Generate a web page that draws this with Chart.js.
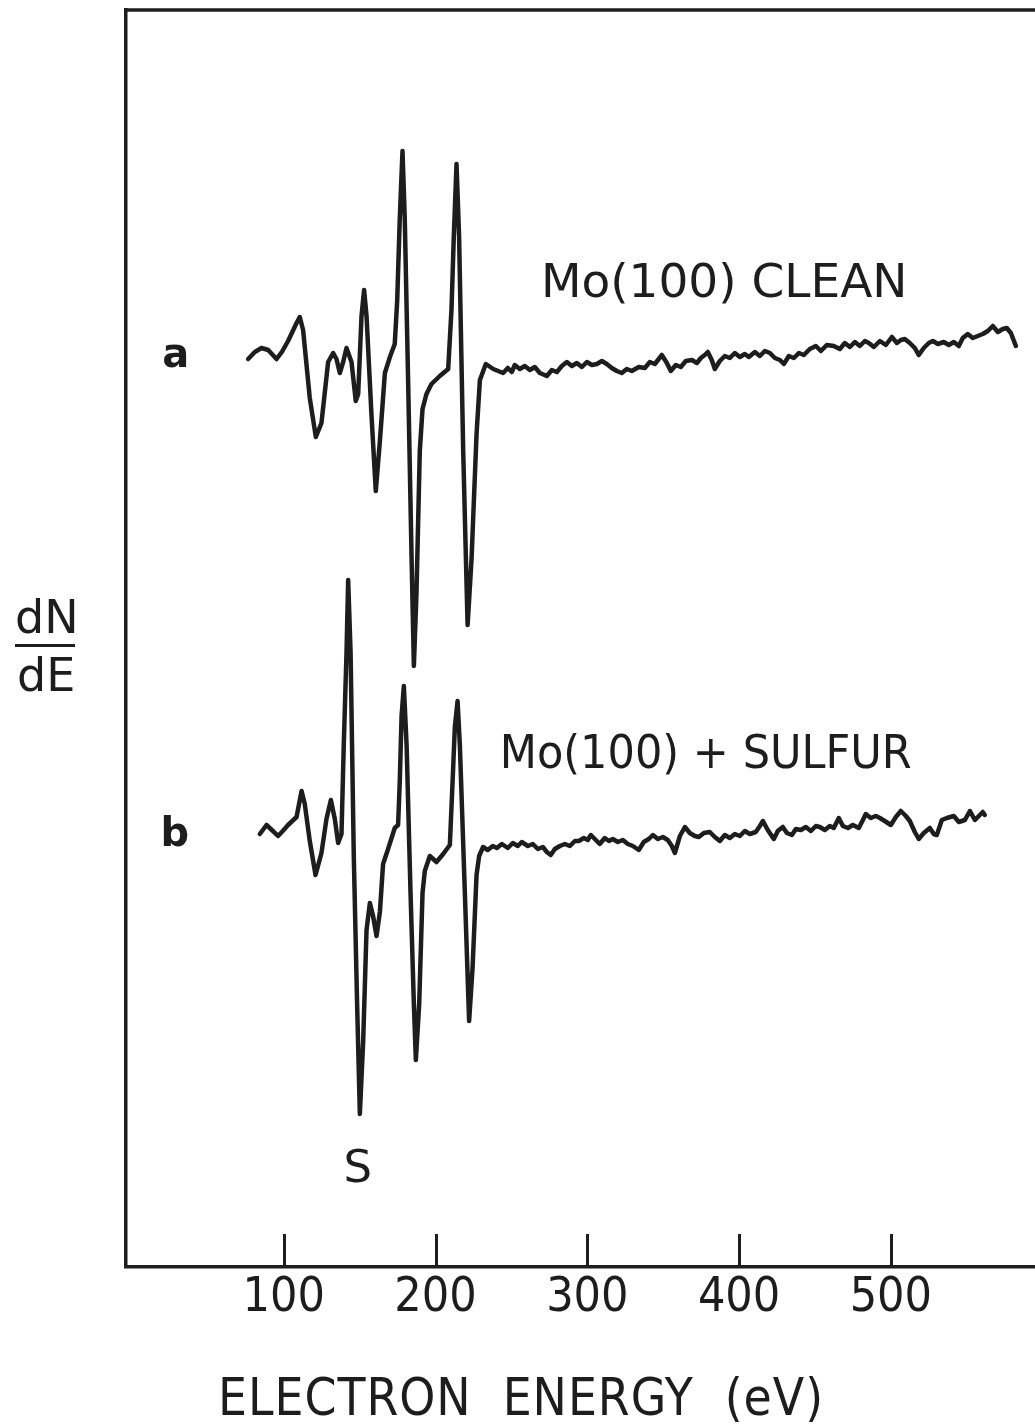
<!DOCTYPE html>
<html>
<head>
<meta charset="utf-8">
<script src="https://cdn.jsdelivr.net/npm/chart.js@4.4.1/dist/chart.umd.min.js"></script>
<style>
  html, body { margin: 0; padding: 0; background: #fff; overflow: hidden; }
</style>
</head>
<body>
<canvas id="auger" width="1035" height="1428"></canvas>
<script>
// Auger spectra of Mo(100): energy in eV, dN/dE in arbitrary units (curves offset vertically)
const cleanEnergy = [
  76.5, 80.9, 85.3, 89.7, 95.2, 98.7, 102.8, 108.4, 110.5, 112.7, 117.1, 121.1, 124.8, 129.2,
  132.5, 134.7, 136.9, 139.1, 141.3, 144.6, 147.4, 149.0, 151.2, 152.9, 154.5, 157.8, 160.6,
  163.3, 166.6, 169.9, 173.1, 174.7, 176.4, 178.2, 179.7, 181.9, 184.2, 185.7, 187.4, 189.6,
  191.4, 194.0, 197.3, 202.8, 208.3, 210.5, 212.0, 213.8, 215.5, 218.2, 221.1, 223.7, 227.0,
  229.2, 233.1, 238.0, 244.5,
  247.6, 250.2, 252.2, 255.5, 258.8, 262.1, 265.4, 268.7, 273.3, 276.6, 279.9, 283.2, 286.5,
  289.8, 293.1, 296.4, 299.7, 303.0, 306.3, 309.6, 312.8, 316.1, 319.4, 322.7, 326.0, 329.3,
  333.9, 337.9, 341.2, 344.5, 349.1, 352.4, 355.0, 358.3, 361.6, 364.9, 368.9, 372.2, 374.8,
  377.4, 379.4, 382.0, 384.0, 387.3, 390.6, 393.9, 397.2, 400.5, 403.8, 406.4, 410.4, 413.7,
  417.0, 420.3, 423.6, 426.9, 429.5, 432.8, 436.1, 439.4, 442.7, 446.6, 450.6, 453.9, 457.8,
  462.4, 466.4, 469.7, 473.0, 476.3, 479.6, 482.9, 485.5, 488.8, 492.8, 496.7, 500.7, 504.0,
  506.6, 509.2, 512.5, 515.8, 518.4, 521.7, 525.0, 527.7, 531.0, 534.9, 538.2, 541.5, 544.8,
  547.4, 550.7, 554.0, 557.3, 560.6, 563.9, 567.2, 570.5, 573.8, 576.4, 579.1, 582.4
];
const cleanSignal = [
  90.8, 91.5, 91.9, 91.7, 90.8, 91.5, 92.6, 94.4, 95.0, 93.7, 86.9, 83.0, 84.4, 90.5,
  91.4, 90.8, 89.4, 90.5, 91.9, 90.5, 86.6, 87.3, 95.1, 97.7, 95.1, 85.1, 77.6,
  82.6, 89.4, 91.0, 92.3, 96.6, 104.8, 111.6, 104.8, 88.7, 70.8, 60.1, 67.3, 81.6,
  85.8, 87.3, 88.3, 89.1, 89.8, 95.8, 103.0, 110.3, 103.0, 81.6, 64.2, 70.8, 83.3,
  88.7, 90.3, 89.8, 89.4,
  89.9, 89.5, 90.2, 89.8, 90.1, 89.7, 90.0, 89.4, 89.1, 89.7, 89.5, 90.1, 90.5,
  90.1, 90.4, 90.0, 90.5, 90.2, 90.3, 90.6, 90.3, 89.9, 89.6, 89.4, 89.8, 89.6,
  90.0, 89.9, 90.5, 90.3, 91.2, 90.4, 89.6, 90.2, 90.0, 90.6, 90.7, 90.4, 90.9,
  91.2, 91.5, 90.7, 89.8, 90.6, 91.1, 90.9, 91.4, 91.0, 91.3, 91.0, 91.5, 91.1,
  91.6, 91.4, 90.9, 90.7, 90.3, 91.1, 90.9, 91.4, 91.2, 91.8, 92.1, 91.6, 92.2,
  92.1, 91.8, 92.4, 92.0, 92.5, 92.1, 92.6, 92.4, 92.0, 92.6, 92.2, 93.0, 92.4,
  92.7, 92.8, 92.4, 91.9, 91.2, 91.9, 92.4, 92.6, 92.3, 92.5, 92.2, 92.5, 92.1,
  92.9, 93.3, 92.9, 93.1, 93.3, 93.6, 94.1, 93.5, 93.8, 93.9, 93.4, 92.1
];

const sulfurEnergy = [
  84.2, 88.6, 92.1, 96.2, 99.3, 102.8, 108.4, 111.7, 113.8, 117.1, 120.9, 124.8, 128.1, 131.0,
  133.6, 135.8, 138.0, 139.5, 141.3, 142.4, 144.0, 146.1, 148.3, 150.1, 152.3, 154.5, 156.7,
  158.8, 161.1, 163.3, 165.4, 168.7, 173.1, 175.3, 176.4, 177.6, 179.1, 180.9, 183.5, 185.7,
  187.0, 189.2, 191.4, 192.9, 196.2, 200.6, 205.0, 209.4, 211.2, 212.7, 214.5, 216.0, 219.3,
  222.1, 224.4, 227.0, 228.7, 231.3,
  234.4, 237.7, 240.4, 243.7, 247.6, 250.9, 254.2, 256.8, 260.8, 264.1, 267.4, 270.7, 273.3,
  275.9, 278.6, 281.9, 285.2, 288.5, 291.8, 294.4, 297.7, 300.3, 302.3, 305.6, 308.2, 311.5,
  314.2, 316.8, 320.1, 323.4, 326.7, 330.0, 333.9, 337.2, 340.5, 343.2, 346.5, 349.8, 353.0,
  355.7, 357.7, 361.0, 364.3, 367.5, 370.8, 373.5, 376.8, 380.7, 384.0, 387.3, 390.6, 393.9,
  397.2, 400.5, 403.8, 407.1, 411.0, 413.7, 415.7, 418.9, 422.9, 425.5, 428.8, 431.5, 434.8,
  437.4, 440.7, 444.0, 447.3, 450.6, 453.2, 456.5, 459.8, 462.4, 465.7, 468.4, 471.7, 475.0,
  478.9, 481.6, 483.5, 486.8, 490.1, 492.8, 496.0, 500.0, 503.3, 506.6, 509.9, 512.5, 515.8,
  518.4, 521.7, 525.7, 528.3, 530.3, 533.6, 536.9, 541.5, 544.8, 548.8, 552.1, 555.4, 558.0,
  560.6, 561.9
];
const sulfurSignal = [
  43.3, 44.2, 43.7, 43.1, 43.6, 44.2, 45.0, 47.6, 46.3, 42.6, 39.2, 41.4, 44.8, 46.7,
  44.8, 42.4, 43.3, 52.2, 61.4, 68.7, 61.4, 41.1, 26.3, 15.3, 22.6, 33.7, 36.4,
  35.1, 33.1, 35.5, 40.3, 41.8, 43.9, 44.2, 48.5, 55.1, 58.1, 52.2, 37.4, 26.3,
  20.7, 26.3, 37.4, 39.6, 41.1, 40.5, 41.3, 42.2, 48.5, 54.0, 56.6, 52.2, 37.4,
  24.6, 30.0, 39.2, 41.1, 42.0,
  41.7, 42.1, 41.9, 42.3, 41.9, 42.4, 42.1, 42.5, 42.1, 42.3, 41.8, 42.0, 41.5,
  41.2, 41.8, 42.1, 42.3, 42.1, 42.6, 42.6, 42.9, 42.7, 43.2, 42.7, 42.3, 42.9,
  42.6, 42.8, 42.5, 42.7, 42.3, 42.1, 41.7, 42.5, 42.8, 43.2, 42.8, 43.0, 42.7,
  42.1, 41.4, 43.1, 44.0, 43.4, 43.1, 43.0, 43.4, 43.5, 43.0, 42.6, 43.2, 42.9,
  43.3, 43.1, 43.6, 43.3, 43.5, 44.1, 44.6, 43.7, 42.8, 43.6, 44.0, 43.4, 43.2,
  43.8, 43.7, 44.0, 43.6, 44.1, 44.0, 43.7, 44.1, 43.9, 44.9, 44.1, 43.9, 44.2,
  43.9, 44.7, 45.3, 44.9, 45.1, 44.9, 44.6, 44.2, 45.0, 45.6, 45.1, 44.6, 43.5,
  42.8, 43.4, 43.9, 43.3, 43.2, 44.7, 44.9, 45.1, 44.5, 44.7, 45.6, 44.7, 45.1,
  45.5, 45.2
];

const energyTicks = [100, 200, 300, 400, 500];

const INK = '#1d1d1d';
const NARROW = '"Liberation Sans Narrow", "DejaVu Sans Condensed", sans-serif';

function toPoints(xs, ys) {
  return xs.map((x, i) => ({ x: x, y: ys[i] }));
}

// frame top, inward tick marks and the hand-lettered labels
const lettering = {
  id: 'lettering',
  afterDraw(chart) {
    const { ctx, chartArea: area, scales: { x, y } } = chart;
    ctx.save();
    ctx.strokeStyle = INK;
    ctx.fillStyle = INK;

    // top edge of the frame
    ctx.lineWidth = 3.5;
    ctx.lineCap = 'square';
    ctx.beginPath();
    ctx.moveTo(area.left, area.top);
    ctx.lineTo(area.right + 4, area.top);
    ctx.stroke();

    // tick marks point up into the plot
    ctx.lineWidth = 3;
    ctx.lineCap = 'butt';
    energyTicks.forEach(v => {
      const px = Math.round(x.getPixelForValue(v)) + 0.5;
      ctx.beginPath();
      ctx.moveTo(px, area.bottom);
      ctx.lineTo(px, area.bottom - 33);
      ctx.stroke();
    });

    ctx.textBaseline = 'alphabetic';

    // curve labels
    ctx.font = 'bold 40px "DejaVu Sans"';
    ctx.textAlign = 'center';
    ctx.fillText('a', x.getPixelForValue(28.8), y.getPixelForValue(90.0));
    ctx.fillText('b', x.getPixelForValue(28.2), y.getPixelForValue(42.1));

    ctx.font = '45px "DejaVu Sans"';
    ctx.fillText('S', x.getPixelForValue(148.8), y.getPixelForValue(8.5));

    ctx.textAlign = 'left';
    ctx.font = '47px "DejaVu Sans"';
    ctx.fillText('Mo(100) CLEAN', x.getPixelForValue(269.4), y.getPixelForValue(97.0), 372);
    ctx.fillText('Mo(100) + SULFUR', x.getPixelForValue(242.3), y.getPixelForValue(49.9), 412);

    // dN/dE written as a fraction beside the frame
    const fx = area.left - 111;
    const fy = (area.top + area.bottom) / 2 + 7;
    ctx.font = '46px "DejaVu Sans"';
    ctx.fillText('dN', fx, fy - 13);
    ctx.fillText('dE', fx + 2, fy + 45);
    ctx.lineWidth = 3;
    ctx.beginPath();
    ctx.moveTo(fx, fy);
    ctx.lineTo(fx + 60, fy);
    ctx.stroke();

    // axis title
    ctx.font = '52px ' + NARROW;
    ctx.letterSpacing = '1px';
    ctx.fillText('ELECTRON  ENERGY  (eV)', area.left + 92, chart.height - 13, 606);
    ctx.restore();
  }
};

new Chart(document.getElementById('auger'), {
  type: 'line',
  data: {
    datasets: [
      { label: 'Mo(100) clean', data: toPoints(cleanEnergy, cleanSignal) },
      { label: 'Mo(100) + sulfur', data: toPoints(sulfurEnergy, sulfurSignal) }
    ]
  },
  options: {
    responsive: false,
    animation: false,
    devicePixelRatio: 1,
    layout: { padding: { left: 126, top: 10, right: 0, bottom: 0 } },
    elements: {
      line: { borderColor: INK, borderWidth: 4.5, tension: 0, borderJoinStyle: 'round', borderCapStyle: 'round', fill: false },
      point: { radius: 0, hoverRadius: 0 }
    },
    plugins: { legend: { display: false }, tooltip: { enabled: false } },
    scales: {
      x: {
        type: 'linear',
        min: -4,
        max: 595,
        grid: { drawOnChartArea: false, drawTicks: false },
        border: { display: true, color: INK, width: 3.5 },
        ticks: {
          color: INK,
          padding: 3,
          maxRotation: 0,
          autoSkip: false,
          font: { family: NARROW, size: 48 }
        },
        afterBuildTicks: scale => { scale.ticks = energyTicks.map(v => ({ value: v })); },
        afterFit: scale => { scale.height = 161; }
      },
      y: {
        type: 'linear',
        min: 0,
        max: 125.7,
        grid: { drawOnChartArea: false, drawTicks: false },
        border: { display: true, color: INK, width: 3.5 },
        ticks: { display: false },
        afterFit: scale => { scale.width = 0; }
      }
    }
  },
  plugins: [lettering]
});
</script>
</body>
</html>
